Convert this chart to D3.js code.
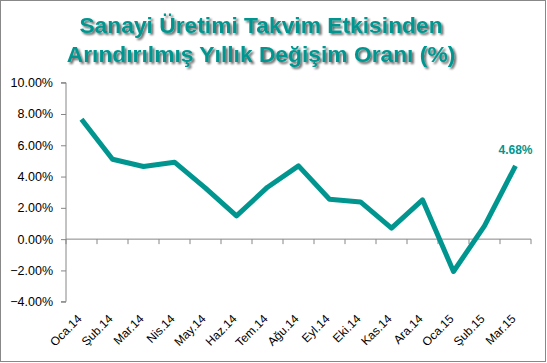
<!DOCTYPE html>
<html><head><meta charset="utf-8">
<script src="https://cdn.jsdelivr.net/npm/d3@7"></script>
<style>body{margin:0;background:#fff}svg{display:block}</style>
</head><body>
<svg id="c" width="547" height="363"></svg>
<script>
const categories = ["Oca.14","Şub.14","Mar.14","Nis.14","May.14","Haz.14","Tem.14","Ağu.14","Eyl.14","Eki.14","Kas.14","Ara.14","Oca.15","Şub.15","Mar.15"];
const values = [7.66,5.11,4.64,4.92,3.26,1.49,3.32,4.68,2.55,2.38,0.70,2.51,-2.07,0.85,4.68];
const yTicks = [-4,-2,0,2,4,6,8,10];
const titleLines = ["Sanayi Üretimi Takvim Etkisinden","Arındırılmış Yıllık Değişim Oranı (%)"];

const svg = d3.select("#c");
const teal = "#00968F";
svg.append("rect").attr("x",0.5).attr("y",0.5).attr("width",545).attr("height",361)
  .attr("fill","#fff").attr("stroke","#888").attr("stroke-width",1);

const defs = svg.append("defs");
const f = defs.append("filter").attr("id","sh").attr("x","-10%").attr("y","-30%").attr("width","120%").attr("height","160%");
f.append("feGaussianBlur").attr("in","SourceAlpha").attr("stdDeviation",1.2).attr("result","b");
f.append("feOffset").attr("in","b").attr("dx",1.5).attr("dy",1.5).attr("result","o");
f.append("feComponentTransfer").attr("in","o").attr("result","o2").append("feFuncA").attr("type","linear").attr("slope",0.6);
const m = f.append("feMerge"); m.append("feMergeNode").attr("in","o2"); m.append("feMergeNode").attr("in","SourceGraphic");

svg.append("g").selectAll("text").data(titleLines).join("text")
  .attr("x",261).attr("y",(d,i)=>33+i*29).attr("text-anchor","middle")
  .attr("font-family","Liberation Sans, Arial, sans-serif").attr("font-weight","bold").attr("font-size",22.8)
  .attr("fill",teal).attr("filter","url(#sh)").text(d=>d);

const x = d3.scaleBand().domain(categories).range([66,531]);
const y = d3.scaleLinear().domain([-4,10]).range([301.7,82.7]);

const yAxis = svg.append("g").attr("transform","translate(66,0)")
  .call(d3.axisLeft(y).tickValues(yTicks).tickFormat(d=>d3.format(".2f")(d)+"%").tickSize(5).tickPadding(8));
yAxis.select(".domain").attr("stroke","#868686").attr("d","M-5,"+y(-4)+"H0V"+y(10)+"H-5");
yAxis.selectAll(".tick line").attr("stroke","#868686");
yAxis.selectAll("text").attr("font-family","Liberation Sans, Arial, sans-serif").attr("font-size",12.5).attr("fill","#000");

const xAxis = svg.append("g").attr("transform",`translate(0,${y(0)})`);
xAxis.append("line").attr("x1",66).attr("x2",531).attr("stroke","#868686");
xAxis.selectAll("line.t").data(d3.range(categories.length+1)).join("line").attr("class","t")
  .attr("x1",i=>66+i*x.step()).attr("x2",i=>66+i*x.step()).attr("y1",0).attr("y2",5).attr("stroke","#868686");

svg.append("g").selectAll("text").data(categories).join("text")
  .attr("transform",d=>`translate(${x(d)+x.bandwidth()/2-5},${y(-4)+12}) rotate(-45)`)
  .attr("text-anchor","end").attr("dy","0.7em")
  .attr("font-family","Liberation Sans, Arial, sans-serif").attr("font-size",12).attr("fill","#000").text(d=>d);

const line = d3.line().x((d,i)=>x(categories[i])+x.bandwidth()/2).y(d=>y(d));
svg.append("path").datum(values).attr("d",line).attr("fill","none").attr("stroke",teal)
  .attr("stroke-width",5).attr("stroke-linejoin","round");

const li = values.length-1;
svg.append("text").attr("x",x(categories[li])+x.bandwidth()/2).attr("y",y(values[li])-12)
  .attr("text-anchor","middle").attr("font-family","Liberation Sans, Arial, sans-serif")
  .attr("font-weight","bold").attr("font-size",12).attr("fill",teal).text(d3.format(".2f")(values[li])+"%");
</script>
</body></html>
